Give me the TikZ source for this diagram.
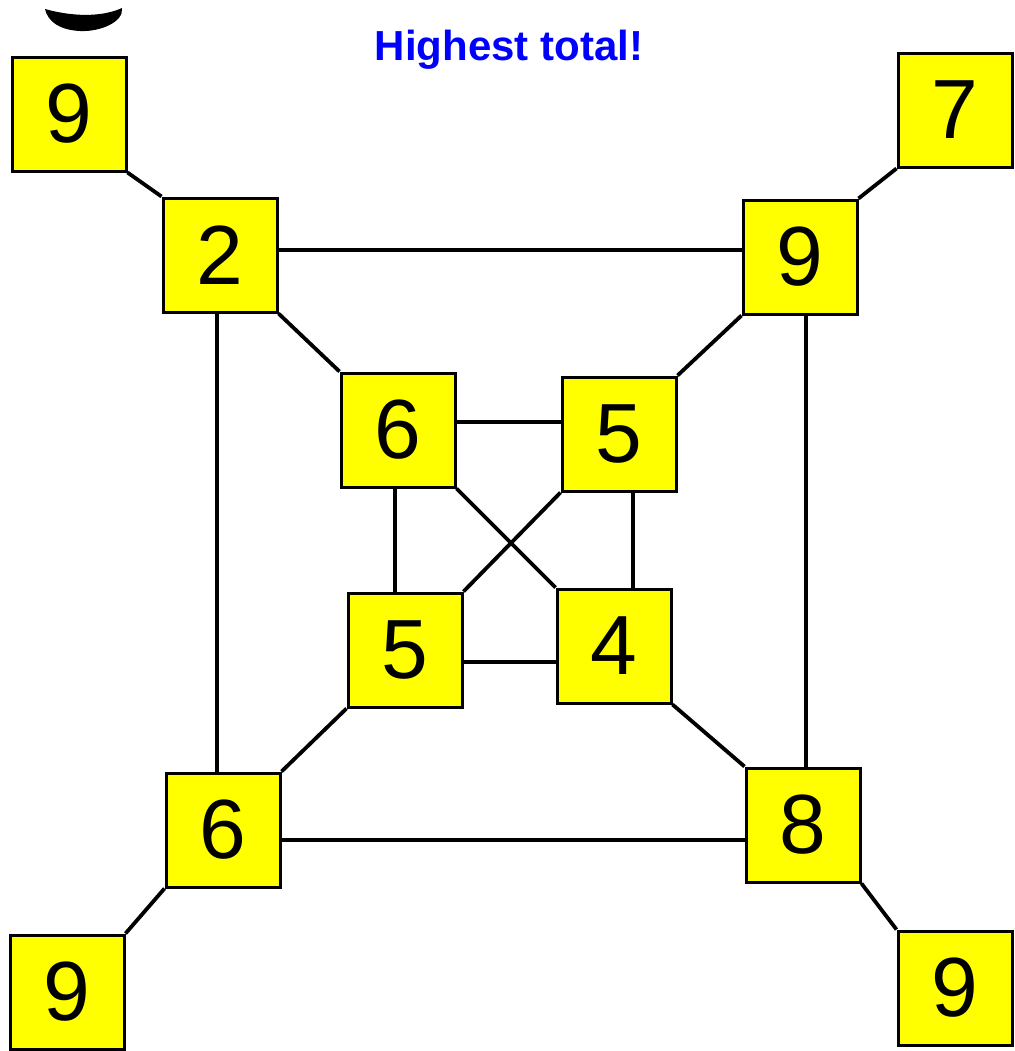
\documentclass[tikz,border=0pt]{standalone}
\usepackage{fontspec}
\setmainfont{Liberation Sans}
\usetikzlibrary{positioning}
\definecolor{boxyellow}{RGB}{255,255,0}
\definecolor{titleblue}{RGB}{0,0,255}

\begin{document}
\begin{tikzpicture}[
		x=0.5pt, y=-0.5pt,
		numbox/.style={draw, line width=1.5pt, fill=boxyellow, minimum size=57pt,
			inner sep=0pt, font=\fontsize{42}{42}\selectfont},
		link/.style={line width=1.9pt},
	]
		\useasboundingbox (0,0) rectangle (1015,1051);

		% Stroke cut off at the top
		\fill (45,9) .. controls (70,16) and (100,18) .. (122,8)
			.. controls (124,22) and (100,32) .. (80,31)
			.. controls (60,30) and (48,22) .. cycle;

		% Title
		\node[font=\bfseries\fontsize{21}{21}\selectfont, text=titleblue] (title) at (509,50) {Highest total!};

		% Corner boxes
		\node[numbox] (ctl) at (69,114) {9};
		\node[numbox] (ctr) at (955,110) {7};
		\node[numbox] (cbl) at (67,992) {9};
		\node[numbox] (cbr) at (955,988) {9};

		% Outer square
		\node[numbox] (otl) at (220,255) {2};
		\node[numbox] (otr) at (800,257) {9};
		\node[numbox] (obl) at (223,830) {6};
		\node[numbox] (obr) at (803,825) {8};

		% Inner square
		\node[numbox] (itl) at (398,430) {6};
		\node[numbox] (itr) at (619,434) {5};
		\node[numbox] (ibl) at (405,650) {5};
		\node[numbox] (ibr) at (614,646) {4};

		% Corners to outer square
		\draw[link] (ctl.south east) -- (otl.north west);
		\draw[link] (ctr.south west) -- (otr.north east);
		\draw[link] (cbl.north east) -- (obl.south west);
		\draw[link] (cbr.north west) -- (obr.south east);

		% Outer square sides
		\draw[link] ([yshift=2.5pt]otl.east) -- ([yshift=3.5pt]otr.west);
		\draw[link] ([xshift=-1.5pt]otl.south) -- ([xshift=-3pt]obl.north);
		\draw[link] ([xshift=3pt]otr.south) -- ([xshift=1.5pt]obr.north);
		\draw[link] ([yshift=-5pt]obl.east) -- ([yshift=-7.5pt]obr.west);

		% Outer to inner
		\draw[link] (otl.south east) -- (itl.north west);
		\draw[link] (otr.south west) -- (itr.north east);
		\draw[link] (obl.north east) -- (ibl.south west);
		\draw[link] (obr.north west) -- (ibr.south east);

		% Inner square
		\draw[link] ([yshift=4pt]itl.east) -- ([yshift=6pt]itr.west);
		\draw[link] ([xshift=-1.5pt]itl.south) -- ([xshift=-5pt]ibl.north);
		\draw[link] ([xshift=7pt]itr.south) -- ([xshift=9.5pt]ibr.north);
		\draw[link] ([yshift=-6pt]ibl.east) -- ([yshift=-8pt]ibr.west);
		\draw[link] (itl.south east) -- (ibr.north west);
		\draw[link] (itr.south west) -- (ibl.north east);
	\end{tikzpicture}
\end{document}
